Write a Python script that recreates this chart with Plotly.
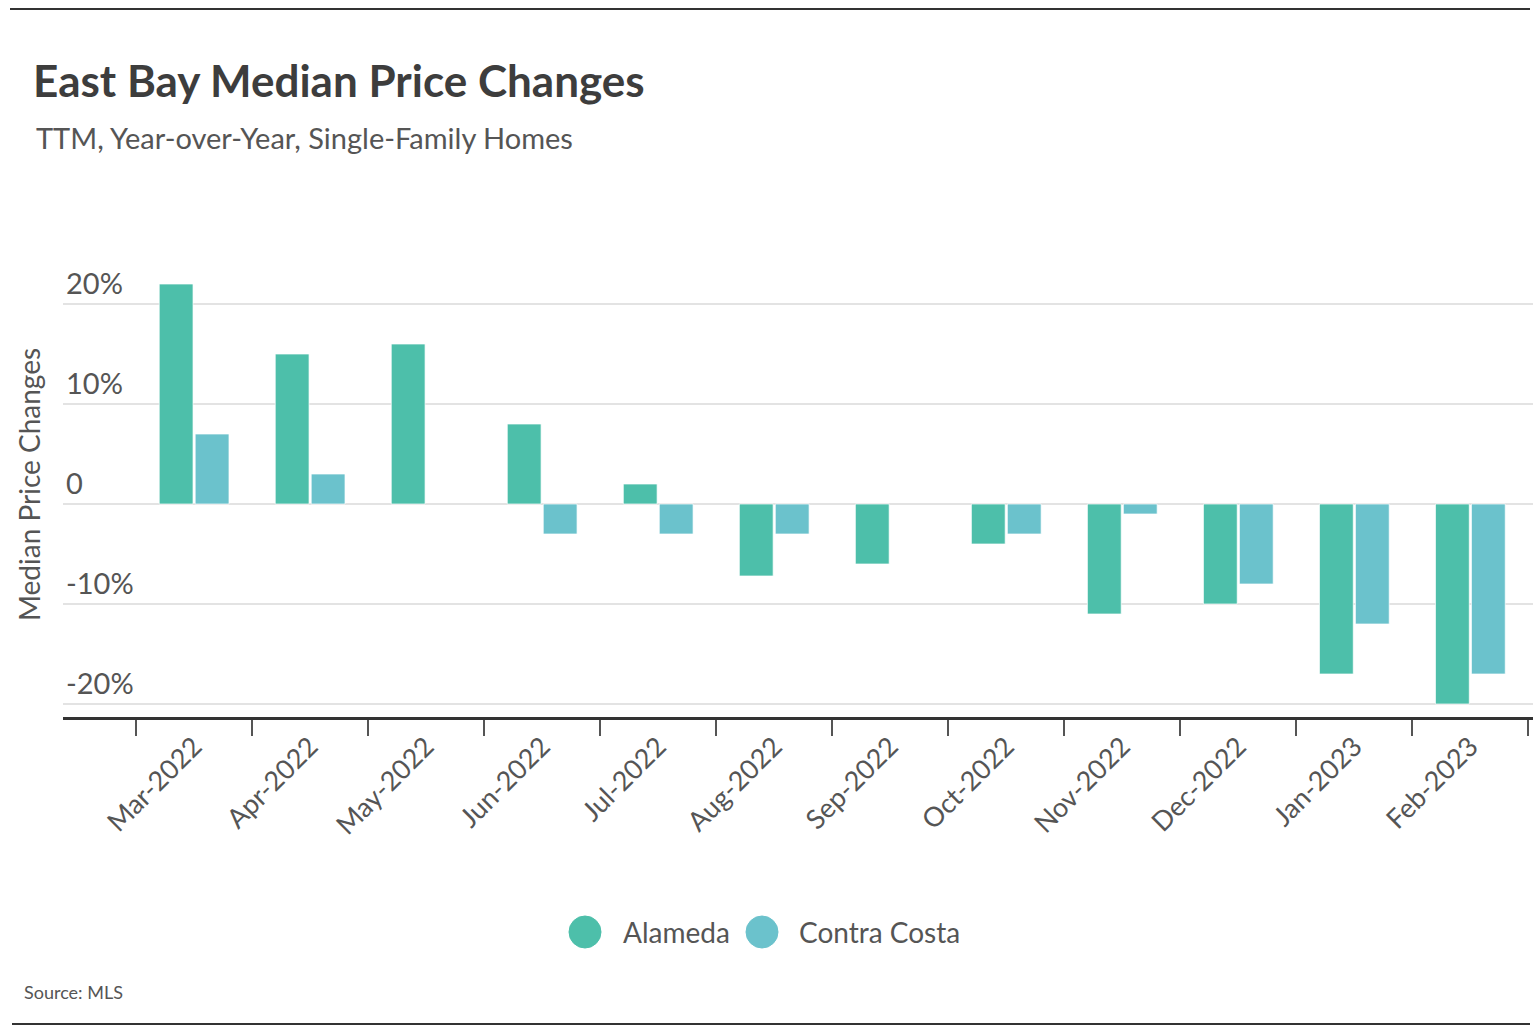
import plotly.graph_objects as go

months = ["Mar-2022", "Apr-2022", "May-2022", "Jun-2022", "Jul-2022", "Aug-2022",
          "Sep-2022", "Oct-2022", "Nov-2022", "Dec-2022", "Jan-2023", "Feb-2023"]
alameda = [22, 15, 16, 8, 2, -7.2, -6, -4, -11, -10, -17, -20]
contra_costa = [7, 3, None, -3, -3, -3, None, -3, -1, -8, -12, -17]

y_ticks = [-20, -10, 0, 10, 20]
y_tick_text = ["-20%", "-10%", "0", "10%", "20%"]

series_names = ["Alameda", "Contra Costa"]
c_alameda = "#4DBFAA"
c_contra = "#6BC2CC"
FONT = "Lato"
W, H = 1540, 1036

fig = go.Figure()
fig.add_trace(go.Bar(x=months, y=alameda, name=series_names[0], marker=dict(color=c_alameda, line=dict(color="rgba(255,255,255,0.7)", width=1)), showlegend=False))
fig.add_trace(go.Bar(x=months, y=contra_costa, name=series_names[1], marker=dict(color=c_contra, line=dict(color="rgba(255,255,255,0.7)", width=1)), showlegend=False))

l, r, t, b = 63, 7, 264, 319
fig.update_layout(
    width=W, height=H,
    margin=dict(l=l, r=r, t=t, b=b, autoexpand=False),
    paper_bgcolor="white", plot_bgcolor="white",
    font=dict(family=FONT, color="#555555"),
    barmode="group", bargap=0.38, bargroupgap=0.06,
    showlegend=False,
)

fig.update_xaxes(
    type="category", categoryorder="array", categoryarray=months, automargin=False,
    range=[-1.13, 11.54], tickson="boundaries", ticks="outside", ticklen=16, tickwidth=2, tickcolor="#555555",
    showline=True, linecolor="#333333", linewidth=3, tickangle=-45,
    tickfont=dict(size=27, color="#555555", family=FONT), showgrid=False, zeroline=False,
)
fig.update_yaxes(
    range=[-21.3, 24], tickvals=y_ticks, ticktext=y_tick_text, ticklabelposition="inside top", automargin=False,
    tickfont=dict(size=29, color="#555555", family=FONT),
    showgrid=True, gridcolor="#e3e3e3", gridwidth=2, zeroline=True, zerolinecolor="#e3e3e3", zerolinewidth=2,
    showline=False, ticks="",
)

def px_x(p):
    return (p - l) / (W - l - r)

def px_y(p):
    return 1 - (p - t) / (H - t - b)

fig.add_annotation(text="Median Price Changes", xref="paper", yref="paper", textangle=-90,
                   x=px_x(29), y=px_y(485), xanchor="center", yanchor="middle",
                   showarrow=False, font=dict(size=28, color="#555555", family=FONT))
fig.add_annotation(text="<b>East Bay Median Price Changes</b>", xref="paper", yref="paper",
                   x=px_x(31), y=px_y(80), xanchor="left", yanchor="middle",
                   showarrow=False, font=dict(size=44, color="#3d3d3d", family=FONT))
fig.add_annotation(text="TTM, Year-over-Year, Single-Family Homes", xref="paper", yref="paper",
                   x=px_x(34), y=px_y(138), xanchor="left", yanchor="middle",
                   showarrow=False, font=dict(size=29, color="#555555", family=FONT))
fig.add_annotation(text="Source: MLS", xref="paper", yref="paper",
                   x=px_x(22), y=px_y(992), xanchor="left", yanchor="middle",
                   showarrow=False, font=dict(size=18, color="#555555", family=FONT))

# legend (circles + labels)
legend_items = [(series_names[0], c_alameda, 585, 621), (series_names[1], c_contra, 762, 797)]
for name, col, cx, tx in legend_items:
    fig.add_shape(type="circle", xref="paper", yref="paper",
                  x0=px_x(cx - 16), x1=px_x(cx + 16), y0=px_y(932 + 16), y1=px_y(932 - 16),
                  fillcolor=col, line=dict(color=col, width=1))
    fig.add_annotation(text=name, xref="paper", yref="paper", x=px_x(tx), y=px_y(932),
                       xanchor="left", yanchor="middle", showarrow=False,
                       font=dict(size=28, color="#555555", family=FONT))

fig.add_shape(type="line", xref="paper", yref="paper", x0=px_x(10), x1=px_x(1530), y0=px_y(9), y1=px_y(9),
              line=dict(color="#333333", width=2))
fig.add_shape(type="line", xref="paper", yref="paper", x0=px_x(12), x1=px_x(1530), y0=px_y(1024), y1=px_y(1024),
              line=dict(color="#333333", width=2))

fig.write_html("out.html", config={"displayModeBar": False},
               post_script="document.body.style.margin='0px';")
